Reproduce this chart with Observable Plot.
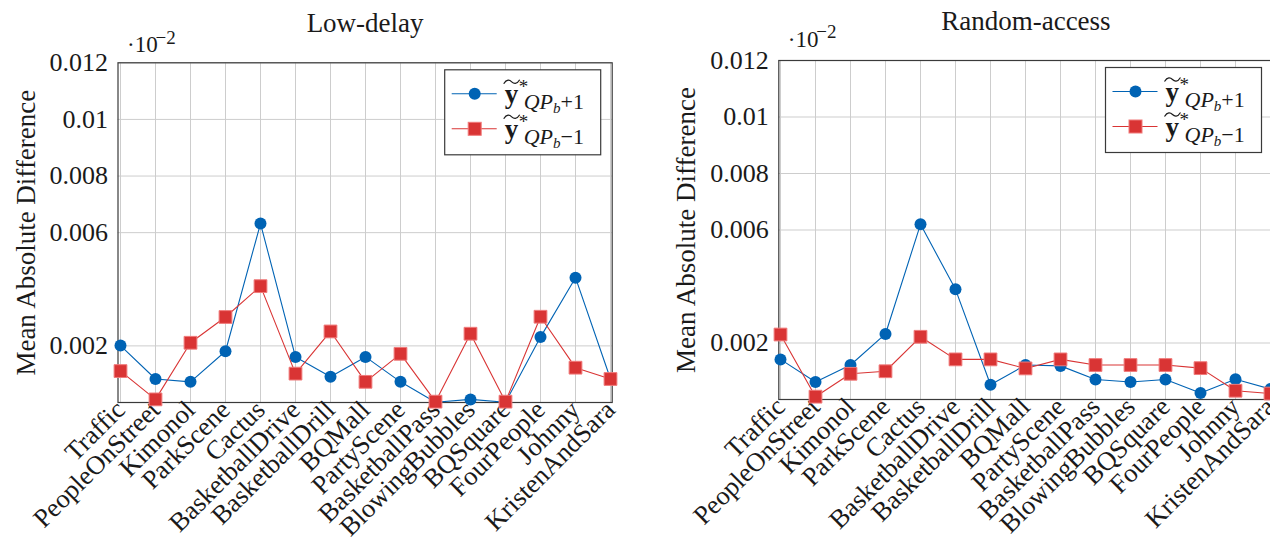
<!DOCTYPE html>
<html><head><meta charset="utf-8">
<script src="https://cdn.jsdelivr.net/npm/d3@7"></script>
<script src="https://cdn.jsdelivr.net/npm/@observablehq/plot@0.6"></script>
<style>
html,body{margin:0;padding:0;background:#fff;}
#wrap{position:relative;width:1270px;height:538px;overflow:hidden;}
#wrap > svg{position:absolute;top:0;}
</style></head><body><div id="wrap"></div>
<script>
const categories = ["Traffic","PeopleOnStreet","Kimonol","ParkScene","Cactus","BasketballDrive","BasketballDrill","BQMall","PartyScene","BasketballPass","BlowingBubbles","BQSquare","FourPeople","Johnny","KristenAndSara"];
const lowDelayPlus  = [0.00201,0.00083,0.00073,0.00181,0.00632,0.00161,0.00091,0.00161,0.00073,0.00001,0.00011,0.00001,0.00231,0.00441,0.00083];
const lowDelayMinus = [0.00111,0.00011,0.00211,0.00302,0.00411,0.00102,0.00251,0.00073,0.00172,0.00003,0.00243,0.00003,0.00303,0.00123,0.00083];
const randomAccessPlus  = [0.00142,0.00062,0.00122,0.00232,0.00620,0.00390,0.00052,0.00122,0.00119,0.00071,0.00062,0.00071,0.00023,0.00072,0.00037];
const randomAccessMinus = [0.00230,0.00010,0.00091,0.00100,0.00222,0.00142,0.00142,0.00110,0.00142,0.00122,0.00122,0.00122,0.00111,0.00031,0.00021];
const yTicks = [0.002, 0.006, 0.008, 0.01, 0.012];
const titles = ["Low-delay", "Random-access"];
const yLabel = "Mean Absolute Difference";
const legendSubs = ["+1", "\u22121"];

const BLUE = "#0063B4", RED = "#D93434";
const FONT = "'Liberation Serif','Times New Roman',serif";

function rows(vals){ return categories.map((c,i)=>({cat:c, v:vals[i]})); }

function panel(title, plus, minus, left, mL, mR, mT, mB, W, sdy){
  const P = rows(plus), M = rows(minus);
  const svg = Plot.plot({
    width: W, height: 538,
    marginLeft: mL, marginRight: mR, marginTop: mT, marginBottom: mB,
    style: {fontFamily: FONT, fontSize: "26px", background: "transparent", overflow: "visible", color: "#1a1a1a"},
    x: {type: "point", domain: categories, padding: 0},
    y: {domain: [0, 0.012]},
    marks: [
      Plot.gridX(categories, {stroke: "#cdcdcd", strokeOpacity: 1, strokeWidth: 1}),
      Plot.gridY(yTicks, {stroke: "#cdcdcd", strokeOpacity: 1, strokeWidth: 1}),
      Plot.frame({stroke: "#3a3a3a", strokeWidth: 1.2}),
      Plot.axisY(yTicks, {tickSize: 0, tickPadding: 10, tickFormat: d => String(d), label: null, fontSize: 26}),
      Plot.axisX({tickSize: 0, tickPadding: 3, tickRotate: -45, textAnchor: "end", label: null, fontSize: 26.5}),
      Plot.line(P, {x: "cat", y: "v", stroke: BLUE, strokeWidth: 1.1}),
      Plot.dot(P, {x: "cat", y: "v", r: 6, fill: BLUE, symbol: "circle"}),
      Plot.line(M, {x: "cat", y: "v", stroke: RED, strokeWidth: 1.1}),
      Plot.dot(M, {x: "cat", y: "v", r: 7.2, fill: RED, stroke: "#F07A7A", strokeWidth: 1, symbol: "square"}),
      Plot.text([title], {frameAnchor: "top", dy: -39, lineAnchor: "middle", textAnchor: "middle", fontSize: 27, fill: "#1a1a1a"}),
      Plot.text(["\u00b710"], {frameAnchor: "top-left", dx: 9, dy: sdy, textAnchor: "start", lineAnchor: "bottom", fontSize: 23, fill: "#1a1a1a"}),
      Plot.text(["\u22122"], {frameAnchor: "top-left", dx: 37.5, dy: sdy - 8.5, textAnchor: "start", lineAnchor: "bottom", fontSize: 19, fill: "#1a1a1a"}),
      Plot.text([yLabel], {frameAnchor: "left", dx: -92, rotate: -90, textAnchor: "middle", lineAnchor: "middle", fontSize: 27, fill: "#1a1a1a", style: "word-spacing:8px"})
    ]
  });
  svg.style.left = left + "px";
  // legend
  const fr = W - mR;
  const g = d3.select(svg).append("g").attr("text-anchor", "start").attr("font-family", FONT);
  const bw = 156, bh = 85;
  const bx = fr - 11 - bw, by = mT + 7.5;
  g.append("rect").attr("x", bx).attr("y", by).attr("width", bw).attr("height", bh)
    .attr("fill", "#fff").attr("stroke", "#3a3a3a").attr("stroke-width", 1.2);
  [[BLUE, "circle", 0], [RED, "square", 1]].forEach(([col, sym, i]) => {
    const yc = by + 24 + i * 35;
    g.append("line").attr("x1", bx + 7).attr("x2", bx + 52).attr("y1", yc).attr("y2", yc)
      .attr("stroke", col).attr("stroke-width", 1.1);
    if (sym === "circle") g.append("circle").attr("cx", bx + 30).attr("cy", yc).attr("r", 6).attr("fill", col);
    else g.append("rect").attr("x", bx + 23.5).attr("y", yc - 6.5).attr("width", 13).attr("height", 13)
      .attr("fill", col).attr("stroke", "#F07A7A").attr("stroke-width", 1);
    const tx = bx + 60;
    g.append("text").attr("x", tx).attr("y", yc + 9).attr("font-size", 27)
      .attr("font-weight", "bold").attr("fill", "#1a1a1a").text("y");
    g.append("path").attr("d", `M${tx-1},${yc-10} c3,-5 6,-4 8,-2 s5,3 8,-2`)
      .attr("fill", "none").attr("stroke", "#1a1a1a").attr("stroke-width", 1.2);
    g.append("text").attr("x", tx + 14).attr("y", yc - 1).attr("font-size", 19)
      .attr("fill", "#1a1a1a").text("*");
    const t = g.append("text").attr("x", tx + 19).attr("y", yc + 15).attr("font-size", 22).attr("fill", "#1a1a1a");
    t.append("tspan").attr("font-style", "italic").text("QP");
    t.append("tspan").attr("font-style", "italic").attr("font-size", 15).attr("dy", 4).text("b");
    t.append("tspan").attr("dy", -4).text(legendSubs[i]);
  });
  document.getElementById("wrap").appendChild(svg);
}

panel(titles[0], lowDelayPlus, lowDelayMinus, 0, 117.5, 650 - 611.7, 62.3, 538 - 402, 650, -10.6);
panel(titles[1], randomAccessPlus, randomAccessMinus, 650, 128.3, 650 - 128.3 - 494.2, 60, 538 - 399, 650, -14);
</script></body></html>
